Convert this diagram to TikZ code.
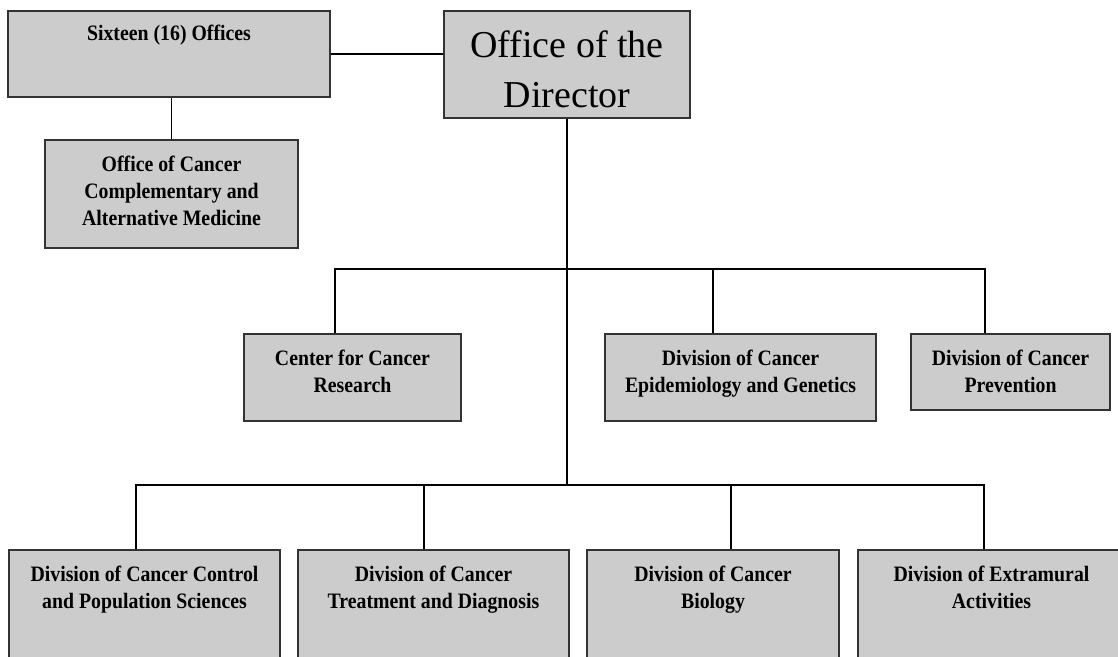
\documentclass[tikz,border=0pt]{standalone}
\usepackage{fontspec}
\setmainfont{Liberation Serif}
\newfontfamily\unitfont[FakeStretch=0.9]{Liberation Serif}
\usetikzlibrary{positioning}
\definecolor{boxgrey}{HTML}{CCCCCC}
\definecolor{edgegrey}{HTML}{333333}
\tikzset{
  unit/.style={draw=edgegrey, fill=boxgrey, line width=1.6pt, inner sep=0pt},
  caption/.style={font=\unitfont\bfseries\fontsize{22}{27}\selectfont, align=center, inner sep=0pt},
  link/.style={draw=black, line width=1.3pt}
}

\begin{document}
\begin{tikzpicture}[x=1pt,y=-1pt]
\useasboundingbox (0,0) rectangle (1118,656);
\clip (0,0) rectangle (1118,656);
% boxes
\node[unit, minimum width=322, minimum height=86] (sixteen) at (169,54) {};
\node[unit, minimum width=246, minimum height=107] (director) at (567,64.5) {};
\node[unit, minimum width=253, minimum height=108] (occam) at (171.5,194) {};
\node[unit, minimum width=217, minimum height=87] (ccr) at (352.5,377.5) {};
\node[unit, minimum width=271, minimum height=87] (dceg) at (740.5,377.5) {};
\node[unit, minimum width=199, minimum height=76] (dcp) at (1010.5,372) {};
\node[unit, minimum width=271, minimum height=120] (dccps) at (144.5,610) {};
\node[unit, minimum width=271, minimum height=120] (dctd) at (433.5,610) {};
\node[unit, minimum width=252, minimum height=120] (dcb) at (713,610) {};
\node[unit, minimum width=267, minimum height=120] (dea) at (991.5,610) {};
% texts
\node[caption, below=15pt of sixteen.north] (sixteentext) {Sixteen (16) Offices};
\node[font=\fontsize{38}{50}\selectfont, align=center, inner sep=0pt, below=20pt of director.north] (directortext) {Office of the\\Director};
\node[caption, below=17pt of occam.north] (occamtext) {Office of Cancer\\Complementary and\\Alternative Medicine};
\node[caption, below=17pt of ccr.north] (ccrtext) {Center for Cancer\\Research};
\node[caption, below=17pt of dceg.north] (dcegtext) {Division of Cancer\\Epidemiology and Genetics};
\node[caption, below=17pt of dcp.north] (dcptext) {Division of Cancer\\Prevention};
\node[caption, below=17pt of dccps.north] (dccpstext) {Division of Cancer Control\\and Population Sciences};
\node[caption, below=17pt of dctd.north] (dctdtext) {Division of Cancer\\Treatment and Diagnosis};
\node[caption, below=17pt of dcb.north] (dcbtext) {Division of Cancer\\Biology};
\node[caption, below=17pt of dea.north] (deatext) {Division of Extramural\\Activities};
% junctions on the two buses
\coordinate (upccr) at (335,269);
\coordinate (updceg) at (713,269);
\coordinate (updcp) at (985,269);
\coordinate (lodccps) at (136,485);
\coordinate (lodctd) at (424,485);
\coordinate (lodcb) at (731,485);
\coordinate (lodea) at (984,485);
% connectors
\draw[link] (sixteen.east) -- (sixteen.east -| director.west);
\draw[link] (occam.north |- sixteen.south) -- (occam.north);
\draw[link] (director.south) -- (director.south |- lodctd);
\draw[link] (ccr.north -| upccr) -- (upccr) -- (updcp) -- (dcp.north -| updcp);
\draw[link] (updceg) -- (dceg.north -| updceg);
\draw[link] (dccps.north -| lodccps) -- (lodccps) -- (lodea) -- (dea.north -| lodea);
\draw[link] (lodctd) -- (dctd.north -| lodctd);
\draw[link] (lodcb) -- (dcb.north -| lodcb);
\end{tikzpicture}
\end{document}
